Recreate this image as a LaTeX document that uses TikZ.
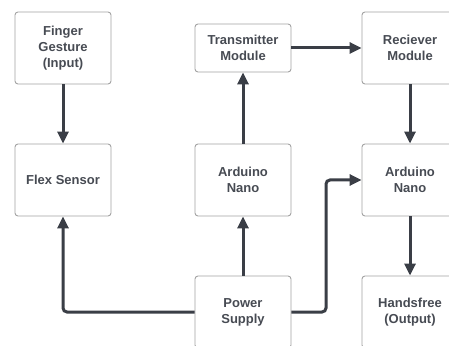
\documentclass[tikz,border=0pt]{standalone}
\usepackage{fontspec}
\setmainfont{Liberation Sans}
\usetikzlibrary{arrows.meta}
\definecolor{boxline}{HTML}{A3A3A3}
\definecolor{txt}{HTML}{474B53}
\definecolor{arr}{HTML}{3A3E46}
\begin{document}
\begin{tikzpicture}[x=1pt,y=1pt,
  blk/.style={draw=boxline,line width=0.9pt,rounded corners=3pt,minimum width=96pt,minimum height=72pt,inner sep=0pt,align=center,font=\fontsize{13}{16}\selectfont\bfseries,text=txt},
  con/.style={draw=arr,line width=3pt,rounded corners=4pt,-{Triangle[length=12pt,width=11pt]}}]
\useasboundingbox (0,0) rectangle (449,345);
\clip (0,0) rectangle (449,345);
\fill[white] (0,0) rectangle (449,345);
\node[blk] (fg) at (63,297) {Finger\\Gesture\\(Input)};
\node[blk] (fs) at (63,165) {Flex Sensor};
\node[blk,minimum height=48pt] (tx) at (243,297) {Transmitter\\Module};
\node[blk] (an1) at (243,165) {Arduino\\Nano};
\node[blk] (ps) at (243,33) {Power\\Supply};
\node[blk] (rx) at (410,297) {Reciever\\Module};
\node[blk] (an2) at (410,165) {Arduino\\Nano};
\node[blk] (hf) at (410,33) {Handsfree\\(Output)};
\coordinate (pl) at (63,33);
\coordinate (c1) at (326,33);
\coordinate (c2) at (326,165);
\draw[con] (fg) -- (fs);
\draw[con] (ps.west) -- (pl) -- (fs.south);
\draw[con] (ps) -- (an1);
\draw[con] (an1) -- (tx);
\draw[con] (tx) -- (rx.west |- tx);
\draw[con] (rx) -- (an2);
\draw[con] (ps.east) -- (c1) -- (c2) -- (an2.west);
\draw[con] (an2) -- (hf);
\end{tikzpicture}
\end{document}
